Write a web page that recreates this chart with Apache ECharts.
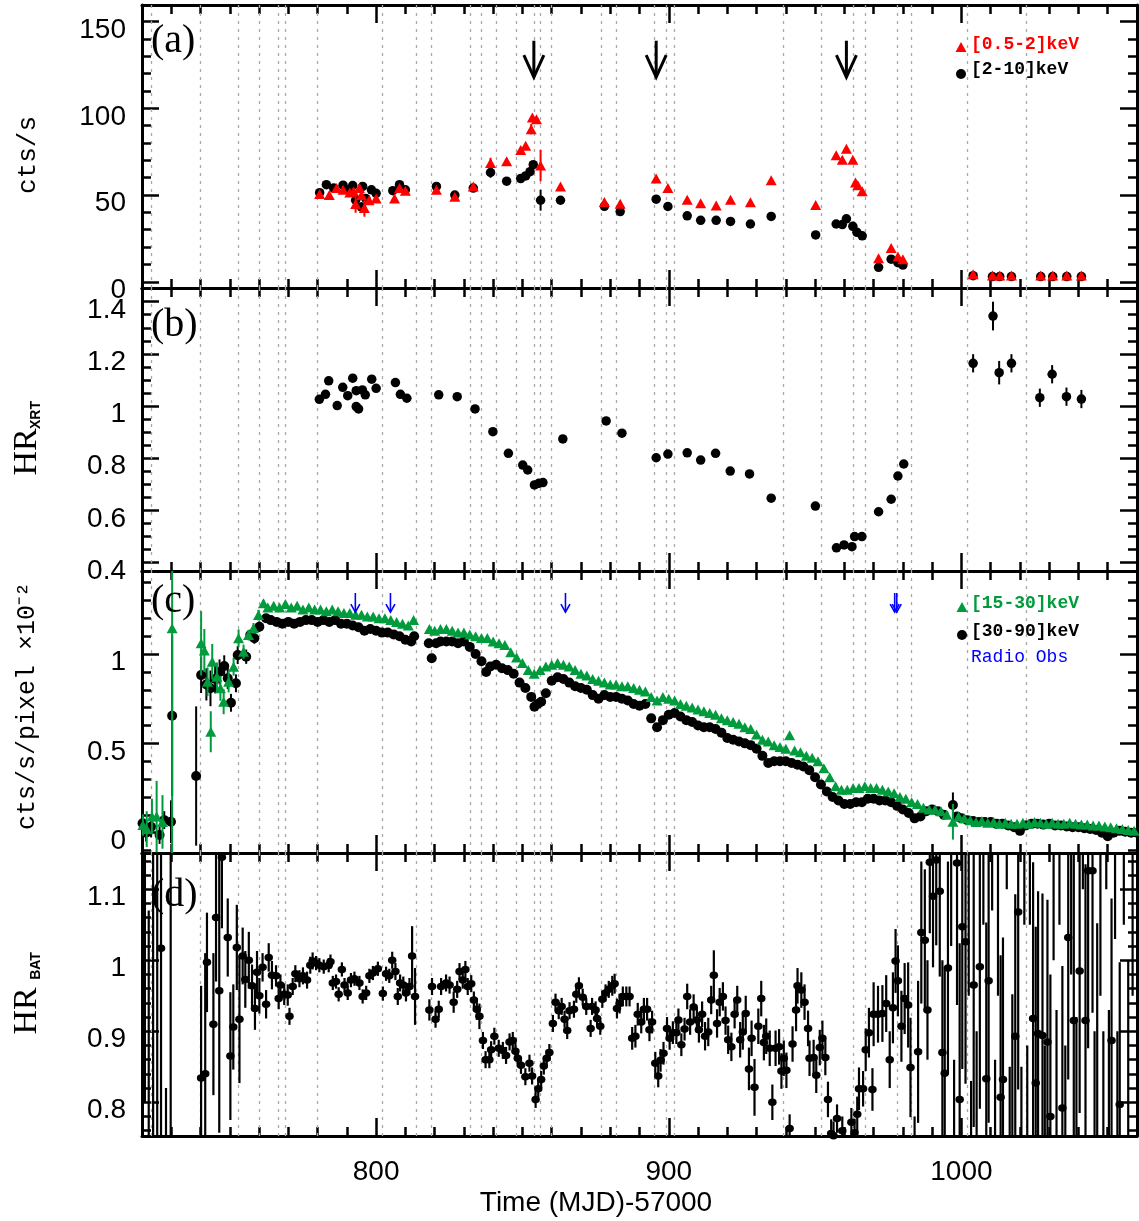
<!DOCTYPE html>
<html>
<head>
<meta charset="utf-8">
<script src="https://cdn.jsdelivr.net/npm/echarts@6/dist/echarts.min.js"></script>
<style>
  html, body { margin: 0; background: #fff; }
  #chart { width: 1139px; height: 1221px; }
</style>
</head>
<body>
<div id="chart"></div>
<script>
// ---- time axis (MJD-57000) ----
const xMajorTicks = [800, 900, 1000]
const obsLines = [723, 740, 753, 760, 766.4, 769, 780, 802, 813.7, 818.8, 832, 836, 841, 848, 854, 856, 860,
  877, 882, 895, 899, 902, 939, 952, 963, 967, 978, 983, 1002, 1022]

// ---- y tick labels per panel ----
const aTicks = [0, 50, 100, 150]
const bTicks = [0.4, 0.6, 0.8, 1, 1.2, 1.4]
const cTicks = [0, 0.5, 1]
const dTicks = [0.8, 0.9, 1, 1.1]

// ---- (a) XRT count rates: [time, rate, err] ----
const xrtHard = [
  [780.7, 51.4, 1], [783.0, 56.0, 1], [785.5, 54, 1], [788.7, 55.7, 1], [790.5, 53, 1], [792.0, 55.5, 1],
  [793.0, 47, 3], [795.4, 55, 1], [795.0, 43, 3], [796.5, 48, 2], [798.4, 53, 1], [800.0, 51, 1],
  [805.7, 52.5, 1], [808.0, 56, 1], [810.0, 53, 1], [820.6, 55, 1], [826.9, 50, 1], [833.2, 54, 1],
  [839.1, 63, 3], [844.6, 58, 1], [849.4, 59.5, 1], [851.1, 61, 1], [852.6, 63.5, 1], [853.7, 67.5, 1],
  [856.2, 47, 6], [863.0, 47, 1], [878.0, 43.5, 1], [883.4, 40.5, 1], [895.7, 47.6, 1], [899.7, 43.4, 1],
  [906.3, 38, 1], [910.9, 35.4, 1], [916.2, 35.4, 1], [921.1, 34.8, 1], [927.9, 33.3, 1], [935.0, 37.7, 1],
  [950.2, 27, 1], [957.2, 33.3, 1], [959.3, 33, 1], [960.7, 36.3, 1], [962.9, 32, 1], [964.3, 28.5, 1],
  [966.1, 26.5, 1], [971.7, 8.3, 1], [976.0, 13, 1], [978.3, 11, 1], [980.0, 9.6, 1],
  [1004, 3.5, 0.5], [1010.6, 3, 0.5], [1013.1, 3, 0.5], [1017.1, 3, 0.5], [1027.1, 3, 0.5],
  [1031.2, 3, 0.5], [1036, 3, 0.5], [1041, 3, 0.5]
]
const xrtSoft = [
  [780.7, 50.6, 1], [784.0, 50, 1], [786.5, 54, 1], [788.7, 53, 1], [791.0, 51.5, 1], [792.3, 52, 2],
  [793.0, 44.8, 5], [794.3, 54, 2], [795.0, 50, 3], [796.0, 42.5, 5], [797.6, 47, 2], [800.0, 48, 1],
  [806.3, 48, 1], [808.0, 54, 1], [810.0, 52.5, 1], [820.6, 53, 1], [826.9, 49, 1], [833.2, 55, 1],
  [839.1, 68.5, 3], [844.6, 69.5, 1.5], [849.4, 76, 1], [851.1, 78.5, 1], [853.0, 88, 3], [853.4, 94.7, 1],
  [854.8, 93.7, 1], [856.2, 67, 9], [863.0, 55, 1], [878.0, 46, 1], [883.4, 45, 1], [895.7, 59.6, 1],
  [899.7, 54, 1], [906.3, 47.3, 1], [910.9, 45.3, 1], [916.2, 44, 1], [921.1, 47.3, 1], [927.9, 45.8, 1],
  [935.0, 58.5, 1], [950.2, 44.3, 1], [957.2, 73, 1], [959.3, 70.4, 1], [960.7, 76.7, 1], [962.9, 70.4, 1],
  [963.8, 57.3, 1], [964.6, 55.7, 1], [966.1, 52.2, 1], [971.7, 13.5, 1], [976.0, 19.4, 1], [978.3, 14.6, 1],
  [980.0, 13, 1], [1004, 4.3, 0.5], [1010.6, 3.6, 0.5], [1013.1, 3.6, 0.5], [1017.1, 3.6, 0.5],
  [1027.1, 3.6, 0.5], [1031.2, 3.6, 0.5], [1036, 3.6, 0.5], [1041, 3.6, 0.5]
]
// outburst arrows in (a): [time, top, tip]
const flareArrows = [[853.9, 139, 118], [895.7, 139, 118], [960.7, 139, 118]]

// ---- (b) XRT hardness ratio ----
const hrXrt = [
  [780.6, 1.026, 0.01], [782.7, 1.045, 0.01], [783.8, 1.097, 0.01], [786.7, 1.002, 0.01], [788.6, 1.072, 0.01],
  [790.3, 1.040, 0.01], [792.0, 1.107, 0.01], [793.2, 1.059, 0.01], [793.2, 0.998, 0.01], [794.0, 0.989, 0.01],
  [795.3, 1.062, 0.01], [796.3, 1.043, 0.01], [798.5, 1.103, 0.01], [800.0, 1.068, 0.01], [806.6, 1.090, 0.01],
  [808.3, 1.045, 0.01], [810.5, 1.030, 0.01], [821.4, 1.043, 0.01], [827.7, 1.036, 0.01], [833.8, 0.989, 0.01],
  [839.9, 0.902, 0.01], [845.2, 0.819, 0.01], [850.1, 0.774, 0.01], [851.8, 0.755, 0.01], [854.1, 0.698, 0.01],
  [855.6, 0.704, 0.01], [857.0, 0.707, 0.01], [863.8, 0.874, 0.01], [878.6, 0.943, 0.01], [884.0, 0.896, 0.01],
  [895.7, 0.802, 0.01], [899.7, 0.816, 0.01], [906.3, 0.821, 0.01], [910.9, 0.793, 0.01], [916.0, 0.819, 0.01],
  [921.0, 0.751, 0.01], [927.6, 0.740, 0.01], [935.0, 0.647, 0.01], [950.1, 0.617, 0.01], [957.3, 0.457, 0.01],
  [959.9, 0.468, 0.01], [962.6, 0.461, 0.01], [963.5, 0.500, 0.01], [966.0, 0.500, 0.01], [971.7, 0.595, 0.01],
  [976.0, 0.643, 0.01], [978.3, 0.732, 0.01], [980.3, 0.778, 0.01], [1004.0, 1.164, 0.035], [1010.8, 1.345, 0.055],
  [1012.9, 1.128, 0.045], [1017.1, 1.164, 0.035], [1026.8, 1.032, 0.035], [1031.0, 1.122, 0.035],
  [1035.9, 1.036, 0.035], [1041.0, 1.027, 0.035]
]

// ---- (c) BAT rates (x 1e-2): [time, rate, err] ----
const batSoft = [
  [720.3, 0.043, 0.06], [721.6, 0.02, 0.1], [723.4, 0.09, 0.1], [725.0, 0.09, 0.2], [727.0, 0.06, 0.15],
  [730.3, 1.144, 1.3], [740.2, 1.06, 0.18], [741.3, 1.02, 0.12], [742.4, 0.845, 0.08], [743.5, 0.565, 0.115],
  [744.0, 0.957, 0.1], [745.6, 0.873, 0.08], [746.8, 0.808, 0.07], [747.9, 0.733, 0.07], [749.6, 0.845, 0.06],
  [751.3, 0.929, 0.05], [753.0, 1.088, 0.05], [754.7, 1.013, 0.04], [756.4, 1.106, 0.03], [758.1, 1.144, 0.03],
  [759.8, 1.218, 0.03], [761.5, 1.284, 0.02],
  [763, 1.26], [765, 1.27], [767, 1.26], [769, 1.28], [771, 1.26], [773, 1.27], [775, 1.25], [777, 1.26],
  [779, 1.25], [781, 1.25], [783, 1.24], [785, 1.25], [787, 1.24], [789, 1.23], [791, 1.23], [793, 1.22],
  [795, 1.22], [797, 1.21], [799, 1.21], [801, 1.20], [803, 1.20], [805, 1.19], [807, 1.18], [809, 1.17],
  [811, 1.16], [812.8, 1.19],
  [818.2, 1.14], [820, 1.13], [822, 1.14], [824, 1.14], [826, 1.13], [828, 1.12], [830, 1.12], [832, 1.11],
  [834, 1.10], [836, 1.09], [838, 1.09], [840, 1.07], [842, 1.06], [844, 1.05], [846, 1.01], [848, 0.98],
  [850, 0.95], [852, 0.91], [854, 0.89], [856, 0.91], [858, 0.93], [860, 0.94], [862, 0.95], [864, 0.94],
  [866, 0.93], [868, 0.91], [870, 0.89], [872, 0.88], [874, 0.86], [876, 0.85], [878, 0.84], [880, 0.83],
  [882, 0.83], [884, 0.82], [886, 0.82], [888, 0.81], [890, 0.80], [892, 0.79], [894, 0.76], [896, 0.74],
  [898, 0.76], [900, 0.75], [902, 0.74], [904, 0.72], [906, 0.71], [908, 0.70], [910, 0.69], [912, 0.68],
  [914, 0.67], [916, 0.66], [918, 0.64], [920, 0.63], [922, 0.62], [924, 0.61], [926, 0.59], [928, 0.58],
  [930, 0.55], [932, 0.52], [934, 0.51], [936, 0.49], [938, 0.48], [940, 0.47], [941.3, 0.546], [943, 0.46],
  [945, 0.45], [947, 0.43], [949, 0.42], [951, 0.40], [953, 0.36], [955, 0.31], [957, 0.26], [959, 0.24],
  [961, 0.24], [963, 0.25], [965, 0.25], [967, 0.26], [969, 0.25], [971, 0.25], [973, 0.24], [975, 0.23],
  [977, 0.22], [979, 0.20], [981, 0.19], [983, 0.17], [985, 0.16], [987, 0.14], [989, 0.13], [991, 0.13],
  [993, 0.12], [995, 0.10], [997.1, 0.061, 0.1], [999, 0.09], [1001, 0.08], [1003, 0.07], [1005, 0.06],
  [1007, 0.065], [1009, 0.055], [1011, 0.06], [1013, 0.05], [1015, 0.055], [1017, 0.05], [1019, 0.05],
  [1021, 0.055], [1023, 0.05], [1025, 0.06], [1027, 0.055], [1029, 0.05], [1031, 0.055], [1033, 0.05],
  [1035, 0.05], [1037, 0.055], [1039, 0.05], [1041, 0.045], [1043, 0.045], [1045, 0.04], [1047, 0.04],
  [1049, 0.035], [1051, 0.03], [1053, 0.025], [1055, 0.02], [1057, 0.015], [1059, 0.01]
]
const batHard = [
  [720.2, 0.052, 0.06], [721.4, 0.0, 0.05], [723.1, 0.033, 0.06], [726.0, -0.013, 0.05], [727.6, 0.07, 0.05],
  [729.9, 0.061, 0.12], [730.3, 0.655, 0.45], [738.5, 0.317, 0.39], [740.2, 0.882, 0.1], [742.0, 0.83, 0.09],
  [743.4, 0.808, 0.1], [745.0, 0.86, 0.08], [746.5, 0.90, 0.07], [748.1, 0.933, 0.06], [749.3, 0.864, 0.06],
  [750.4, 0.727, 0.05], [752.1, 0.836, 0.05], [752.7, 0.994, 0.05], [755.6, 0.985, 0.04], [757.0, 1.106, 0.03],
  [758.4, 1.088, 0.03], [760.1, 1.153, 0.03], [762.4, 1.2, 0.02],
  [764, 1.19], [766, 1.18], [768, 1.17], [770, 1.18], [772, 1.17], [774, 1.18], [776, 1.19], [778, 1.19],
  [780, 1.18], [782, 1.19], [784, 1.18], [786, 1.19], [788, 1.17], [790, 1.17], [792, 1.16], [794, 1.15],
  [796, 1.13], [798, 1.14], [800, 1.13], [802, 1.12], [804, 1.12], [806, 1.11], [808, 1.10], [810, 1.08],
  [812, 1.07], [813, 1.10],
  [818, 1.06], [819, 0.976], [820.5, 1.06], [822, 1.07], [824, 1.07], [826, 1.07], [828, 1.06], [830, 1.07],
  [832, 1.04], [834, 1.00], [836, 0.96], [837.6, 0.90], [839, 0.93], [841, 0.94], [843, 0.92], [845, 0.91],
  [847, 0.89], [849, 0.84], [851, 0.81], [853, 0.76], [854.1, 0.705], [855.2, 0.72], [856.4, 0.733], [858, 0.78],
  [860, 0.85], [862, 0.87], [864, 0.86], [866, 0.84], [868, 0.82], [870, 0.81], [872, 0.80], [874, 0.77],
  [876, 0.75], [878, 0.77], [880, 0.76], [882, 0.76], [884, 0.75], [886, 0.74], [888, 0.72], [890, 0.71],
  [892, 0.72], [894, 0.64], [896, 0.59], [898, 0.63], [900, 0.66], [902, 0.67], [904, 0.65], [906, 0.63],
  [908, 0.62], [910, 0.60], [912, 0.59], [914, 0.59], [916, 0.58], [918, 0.56], [920, 0.53], [922, 0.52],
  [924, 0.51], [926, 0.50], [928, 0.49], [930, 0.47], [932, 0.43], [934, 0.39], [936, 0.40], [938, 0.40],
  [940, 0.40], [942, 0.39], [944, 0.38], [946, 0.37], [948, 0.35], [950, 0.31], [952, 0.27], [954, 0.23],
  [956, 0.20], [958, 0.18], [960, 0.16], [962, 0.16], [964, 0.17], [966, 0.17], [968, 0.19], [970, 0.19],
  [972, 0.18], [974, 0.18], [976, 0.17], [978, 0.15], [980, 0.13], [982, 0.11], [984, 0.08], [986, 0.09],
  [988, 0.12], [990, 0.13], [992, 0.12], [994, 0.10], [997.1, 0.155, 0.07], [998.5, 0.09], [1000, 0.08],
  [1002, 0.07], [1004, 0.065], [1006, 0.06], [1008, 0.06], [1010, 0.06], [1012, 0.05], [1014, 0.05],
  [1016, 0.04], [1018, 0.03], [1020, 0.01], [1022, 0.04], [1024, 0.05], [1026, 0.05], [1028, 0.045],
  [1030, 0.05], [1032, 0.04], [1034, 0.04], [1036, 0.035], [1038, 0.03], [1040, 0.03], [1042, 0.025],
  [1044, 0.02], [1046, 0.015], [1048, 0.0], [1050, -0.02], [1052, 0.0], [1054, 0.01], [1056, 0.005],
  [1058, 0.0], [1060, 0.0]
]
// radio observations in (c): [time, top, tip]
const radioArrows = [[792.9, 1.342, 1.235], [804.9, 1.342, 1.235], [864.7, 1.342, 1.235],
  [977.2, 1.342, 1.235], [977.9, 1.342, 1.235]]

// ---- (d) BAT hardness ratio ----
const hrBat = [
  [721.0, 1.30, 0.5], [722.3, 0.62, 0.45], [723.8, 1.25, 0.5], [725.2, 0.68, 0.5], [726.5, 1.017, 0.45],
  [728.2, 0.62, 0.2], [729.8, 1.22, 0.6],
  [740.2, 0.834, 0.13], [741.6, 0.840, 0.17], [742.2, 0.997, 0.07], [744.4, 0.910, 0.10], [745.3, 1.060, 0.09],
  [746.4, 0.957, 0.2], [747.3, 1.145, 0.1], [749.3, 1.032, 0.055], [750.2, 0.865, 0.09], [751.2, 0.906, 0.06],
  [752.4, 1.018, 0.06], [753.3, 0.917, 0.09], [754.4, 1.006, 0.04], [755.3, 0.973, 0.04], [756.5, 1.000, 0.04],
  [757.6, 0.964, 0.03], [758.6, 0.932, 0.03], [759.3, 0.983, 0.03], [760.1, 0.950, 0.025], [761.2, 0.990, 0.02],
  [762.4, 0.938, 0.02], [763.3, 1.004, 0.02], [764.4, 0.979, 0.02], [765.8, 0.978, 0.015], [766.7, 0.946, 0.015],
  [767.3, 0.965, 0.015], [768.6, 0.952, 0.015], [769.8, 0.951, 0.015], [770.4, 0.921, 0.012], [771.5, 0.963, 0.012],
  [772.4, 0.981, 0.012], [773.8, 0.974, 0.012], [775.0, 0.978, 0.012], [776.4, 0.972, 0.012], [777.5, 0.993, 0.012],
  [778.3, 0.999, 0.012], [779.5, 0.996, 0.01], [780.6, 0.993, 0.01], [782.1, 0.991, 0.01], [783.8, 0.993, 0.01],
  [784.4, 0.998, 0.01], [785.2, 0.968, 0.01], [786.3, 0.970, 0.01], [787.2, 0.952, 0.01], [788.3, 0.987, 0.01],
  [789.2, 0.965, 0.01], [790.3, 0.954, 0.01], [791.4, 0.972, 0.01], [792.6, 0.974, 0.01], [794.3, 0.968, 0.01],
  [795.4, 0.949, 0.01], [796.6, 0.954, 0.01], [797.7, 0.978, 0.01], [798.9, 0.982, 0.01], [800.6, 0.988, 0.01],
  [802.3, 0.953, 0.01], [803.4, 0.981, 0.01], [804.5, 0.978, 0.01], [805.5, 1.000, 0.012], [806.6, 0.984, 0.012],
  [807.4, 0.949, 0.012], [808.2, 0.968, 0.012], [809.3, 0.965, 0.012], [810.2, 0.954, 0.012], [811.4, 0.963, 0.012],
  [812.3, 1.006, 0.042], [813.3, 0.949, 0.04], [818.2, 0.930, 0.015], [819.1, 0.963, 0.012], [820.3, 0.917, 0.012],
  [821.4, 0.931, 0.012], [822.2, 0.963, 0.012], [823.9, 0.968, 0.012], [825.1, 0.965, 0.012], [826.5, 0.941, 0.015],
  [827.7, 0.959, 0.012], [828.5, 0.984, 0.012], [829.6, 0.972, 0.012], [830.5, 0.987, 0.012], [831.3, 0.963, 0.012],
  [832.5, 0.967, 0.012], [833.4, 0.944, 0.012], [834.4, 0.931, 0.015], [835.3, 0.921, 0.018], [836.5, 0.887, 0.012],
  [837.4, 0.860, 0.012], [838.7, 0.860, 0.012], [839.3, 0.874, 0.012], [840.4, 0.893, 0.012], [841.9, 0.876, 0.012],
  [843.3, 0.873, 0.012], [844.4, 0.866, 0.012], [845.6, 0.885, 0.012], [846.7, 0.887, 0.012], [847.6, 0.872, 0.012],
  [848.4, 0.862, 0.012], [849.5, 0.852, 0.012], [851.0, 0.836, 0.012], [852.4, 0.855, 0.012], [853.3, 0.837, 0.012],
  [854.5, 0.804, 0.012], [855.4, 0.819, 0.012], [856.4, 0.832, 0.012], [857.3, 0.851, 0.012], [858.3, 0.862, 0.012],
  [859.2, 0.870, 0.012], [860.4, 0.911, 0.012], [861.3, 0.941, 0.012], [862.4, 0.929, 0.012], [863.4, 0.935, 0.012],
  [864.4, 0.917, 0.012], [865.3, 0.901, 0.012], [866.1, 0.929, 0.012], [867.6, 0.931, 0.012], [868.4, 0.952, 0.012],
  [869.3, 0.964, 0.012], [870.6, 0.948, 0.012], [871.8, 0.935, 0.012], [873.3, 0.904, 0.012], [873.8, 0.935, 0.012],
  [875.0, 0.930, 0.012], [875.5, 0.918, 0.012], [876.6, 0.907, 0.012], [877.3, 0.945, 0.012], [878.4, 0.954, 0.012],
  [879.5, 0.959, 0.012], [880.7, 0.964, 0.014], [881.5, 0.967, 0.014], [882.3, 0.932, 0.014], [883.2, 0.939, 0.014],
  [884.3, 0.949, 0.014], [885.5, 0.949, 0.014], [886.6, 0.949, 0.014], [887.5, 0.890, 0.016], [888.6, 0.893, 0.016],
  [889.4, 0.924, 0.016], [890.6, 0.913, 0.016], [891.5, 0.931, 0.016], [892.6, 0.931, 0.016], [893.4, 0.902, 0.016],
  [894.3, 0.913, 0.016], [895.4, 0.855, 0.016], [896.4, 0.837, 0.016], [897.2, 0.859, 0.016], [898.2, 0.869, 0.016],
  [899.4, 0.904, 0.016], [900.3, 0.890, 0.016], [901.4, 0.898, 0.016], [902.6, 0.898, 0.016], [903.3, 0.916, 0.016],
  [904.3, 0.881, 0.016], [905.4, 0.903, 0.016], [906.3, 0.949, 0.018], [907.3, 0.913, 0.018], [908.5, 0.934, 0.018],
  [909.6, 0.916, 0.018], [910.3, 0.902, 0.018], [911.4, 0.924, 0.018], [912.4, 0.893, 0.02], [913.5, 0.899, 0.02],
  [914.5, 0.944, 0.02], [915.4, 0.979, 0.035], [916.5, 0.911, 0.02], [917.4, 0.941, 0.02], [918.5, 0.949, 0.02],
  [919.4, 0.915, 0.02], [920.3, 0.888, 0.02], [921.4, 0.878, 0.02], [922.5, 0.924, 0.02], [923.4, 0.944, 0.02],
  [924.4, 0.888, 0.025], [925.3, 0.899, 0.025], [926.3, 0.925, 0.025], [927.4, 0.847, 0.03], [928.3, 0.890, 0.025],
  [929.3, 0.821, 0.04], [930.6, 0.907, 0.025], [931.6, 0.946, 0.025], [932.5, 0.884, 0.025], [933.3, 0.893, 0.025],
  [934.5, 0.876, 0.025], [935.4, 0.800, 0.025], [936.5, 0.876, 0.025], [937.7, 0.878, 0.025], [938.5, 0.844, 0.025],
  [939.3, 0.862, 0.025], [940.2, 0.845, 0.025], [941.3, 0.763, 0.02], [942.3, 0.882, 0.025], [943.5, 0.930, 0.03],
  [944.0, 0.964, 0.025], [945.3, 0.958, 0.025], [946.4, 0.941, 0.025], [947.6, 0.904, 0.025], [948.1, 0.862, 0.025],
  [949.5, 0.863, 0.025], [950.4, 0.838, 0.025], [951.6, 0.877, 0.025], [952.5, 0.890, 0.025], [953.5, 0.863, 0.025],
  [954.4, 0.804, 0.025], [955.5, 0.756, 0.02], [956.3, 0.753, 0.02], [957.5, 0.777, 0.02], [959.3, 0.760, 0.02],
  [962.4, 0.772, 0.02], [963.5, 0.757, 0.02], [964.4, 0.783, 0.025], [965.0, 0.819, 0.03], [966.4, 0.819, 0.025],
  [967.3, 0.874, 0.03], [968.4, 0.898, 0.035], [969.6, 0.818, 0.03], [970.0, 0.924, 0.045], [971.5, 0.924, 0.04],
  [973.0, 0.925, 0.04], [974.3, 0.939, 0.04], [975.5, 0.860, 0.04], [976.6, 0.933, 0.05], [977.5, 0.999, 0.045],
  [978.3, 0.971, 0.05], [979.5, 0.907, 0.05], [980.6, 0.946, 0.05], [981.8, 0.937, 0.06], [982.6, 0.849, 0.07],
  [984.0, 0.70, 0.08], [985.2, 0.871, 0.1], [986.3, 1.039, 0.1], [987.5, 1.028, 0.1], [988.4, 0.930, 0.07],
  [989.2, 1.138, 0.1], [990.3, 1.090, 0.1], [991.4, 1.141, 0.12], [992.6, 1.097, 0.12], [993.5, 0.870, 0.13],
  [994.3, 0.841, 0.15], [995.4, 0.989, 0.15], [996.5, 1.22, 0.2], [997.5, 0.66, 0.2], [998.5, 1.137, 0.2],
  [999.4, 0.804, 0.22], [1000.3, 1.047, 0.2], [1001.4, 1.026, 0.2], [1002.5, 1.25, 0.3], [1003.3, 0.68, 0.15],
  [1004.2, 0.965, 0.2], [1005.2, 0.70, 0.2], [1006.3, 0.991, 0.2], [1007.5, 1.25, 0.2], [1008.5, 0.833, 0.22],
  [1009.3, 0.971, 0.2], [1010.5, 1.25, 0.18], [1011.5, 0.68, 0.18], [1012.5, 1.2, 0.25], [1013.4, 0.807, 0.2],
  [1014.2, 0.832, 0.2], [1015.5, 1.3, 0.2], [1016.5, 0.65, 0.2], [1017.4, 0.752, 0.2], [1018.4, 0.893, 0.2],
  [1019.4, 1.068, 0.25], [1020.5, 0.65, 0.2], [1021.5, 1.25, 0.2], [1022.5, 0.68, 0.2], [1023.4, 1.3, 0.25],
  [1024.5, 0.918, 0.22], [1025.4, 0.827, 0.22], [1026.2, 0.897, 0.2], [1027.7, 0.894, 0.2], [1028.5, 0.68, 0.2],
  [1029.4, 0.885, 0.2], [1030.4, 0.780, 0.2], [1031.5, 1.3, 0.3], [1032.5, 0.68, 0.25], [1033.5, 1.25, 0.2],
  [1034.5, 0.792, 0.2], [1035.5, 0.68, 0.2], [1036.5, 1.032, 0.2], [1037.5, 1.28, 0.3], [1038.4, 0.915, 0.25],
  [1039.3, 0.70, 0.22], [1040.4, 0.985, 0.2], [1041.5, 1.3, 0.2], [1042.4, 0.915, 0.22], [1043.3, 1.126, 0.25],
  [1044.8, 1.126, 0.2], [1045.5, 0.7, 0.2], [1046.4, 0.752, 0.3], [1047.5, 1.25, 0.3], [1048.5, 0.7, 0.2],
  [1049.5, 1.3, 0.2], [1050.4, 0.68, 0.25], [1051.3, 0.887, 0.2], [1052.5, 1.28, 0.25], [1053.3, 0.7, 0.2],
  [1054.1, 0.797, 0.2], [1055.5, 1.3, 0.25], [1057, 0.7, 0.3], [1058.5, 1.25, 0.3]
]

// ---- layout ----
const panels = [
  { top: 5, height: 283, min: -3.6, max: 159.6, major: aTicks, minor: [0, 150, 10] },
  { top: 288, height: 283, min: 0.368, max: 1.4525, major: bTicks, minor: [0.4, 1.45, 0.05] },
  { top: 571, height: 282, min: -0.114, max: 1.465, major: cTicks, minor: [-0.1, 1.4, 0.1] },
  { top: 853, height: 283, min: 0.7525, max: 1.151, major: dTicks, minor: [0.76, 1.14, 0.02] }
]
const tickFont = 'Liberation Sans'
const green = '#009b3c'
const blue = '#0000ff'

function steps(from, to, step) {
  const out = []
  const n = Math.round((to - from) / step)
  for (let i = 0; i <= n; i++) out.push(+(from + i * step).toFixed(4))
  return out
}
const xMinorTicks = steps(720, 1060, 10)

function xAxis(g, pos, minor) {
  return {
    type: 'value', gridIndex: g, min: 720, max: 1060, position: pos,
    axisLine: { show: !minor, onZero: false, lineStyle: { color: '#000', width: 3 } },
    axisTick: { show: true, inside: true, length: minor ? 9 : 18, customValues: minor ? xMinorTicks : xMajorTicks,
      lineStyle: { color: '#000', width: 2.5 } },
    axisLabel: { show: !minor && pos === 'bottom' && g === 3, customValues: xMajorTicks, margin: 22,
      formatter: v => String(v), fontSize: 28, fontFamily: tickFont, color: '#000' },
    splitLine: { show: false }
  }
}
function yAxis(g, pos, minor) {
  const p = panels[g]
  return {
    type: 'value', gridIndex: g, min: p.min, max: p.max, position: pos,
    axisLine: { show: !minor, onZero: false, lineStyle: { color: '#000', width: 3 } },
    axisTick: { show: true, inside: true, length: minor ? 9 : 17,
      customValues: minor ? steps(p.minor[0], p.minor[1], p.minor[2]) : p.major,
      lineStyle: { color: '#000', width: 2.5 } },
    axisLabel: { show: !minor && pos === 'left', customValues: p.major, margin: 16,
      formatter: v => '{t|' + v + '}',
      rich: { t: { fontSize: 28, fontFamily: tickFont, color: '#000', padding: [17, 0, 0, 0] } } },
    splitLine: { show: false }
  }
}

const grid = [], xAxes = [], yAxes = []
panels.forEach((p, g) => {
  grid.push({ left: 142, width: 995, top: p.top, height: p.height })
  ;['bottom', 'top'].forEach(pos => [false, true].forEach(m => xAxes.push(xAxis(g, pos, m))))
  ;['left', 'right'].forEach(pos => [false, true].forEach(m => yAxes.push(yAxis(g, pos, m))))
})

function errBars(g, data, color, width, z) {
  return {
    type: 'custom', xAxisIndex: g * 4, yAxisIndex: g * 4, data: data, clip: true, z: z, silent: true,
    renderItem(params, api) {
      const e = api.value(2)
      if (!e || isNaN(e)) return null
      const x = api.value(0), y = api.value(1)
      const p1 = api.coord([x, y - e]), p2 = api.coord([x, y + e])
      return { type: 'line', shape: { x1: p1[0], y1: p1[1], x2: p2[0], y2: p2[1] },
        style: { stroke: color, lineWidth: width } }
    }
  }
}
function points(g, data, color, symbol, size, z) {
  return {
    type: 'scatter', xAxisIndex: g * 4, yAxisIndex: g * 4, data: data, clip: true, z: z, silent: true,
    symbol: symbol, symbolSize: size, itemStyle: { color: color, opacity: 1 }
  }
}
function arrows(g, data, color, width, head) {
  return {
    type: 'custom', xAxisIndex: g * 4, yAxisIndex: g * 4, data: data, z: 10, silent: true,
    renderItem(params, api) {
      const a = api.coord([api.value(0), api.value(1)])
      const b = api.coord([api.value(0), api.value(2)])
      return { type: 'group', children: [
        { type: 'line', shape: { x1: a[0], y1: a[1], x2: b[0], y2: b[1] }, style: { stroke: color, lineWidth: width } },
        { type: 'polyline', shape: { points: [[b[0] - head[0], b[1] - head[1]], [b[0], b[1]], [b[0] + head[0], b[1] - head[1]]] },
          style: { stroke: color, lineWidth: width, fill: null } }
      ] }
    }
  }
}
function obsMarks(g) {
  return {
    type: 'scatter', xAxisIndex: g * 4, yAxisIndex: g * 4, data: [], silent: true,
    markLine: {
      silent: true, symbol: ['none', 'none'], z: 1, animation: false,
      label: { show: false },
      lineStyle: { color: '#a8a8a8', width: 1.3, type: [3, 5] },
      data: obsLines.map(v => ({ xAxis: v }))
    }
  }
}

const series = [
  obsMarks(0), obsMarks(1), obsMarks(2), obsMarks(3),
  errBars(0, xrtHard, '#000', 2, 3), points(0, xrtHard, '#000', 'circle', 9.5, 4),
  errBars(0, xrtSoft, '#ff0000', 2, 5), points(0, xrtSoft, '#ff0000', 'triangle', [11, 10], 6),
  arrows(0, flareArrows, '#000', 3, [10, 22]),
  errBars(1, hrXrt, '#000', 2, 3), points(1, hrXrt, '#000', 'circle', 9.5, 4),
  errBars(2, batHard, '#000', 2, 3), points(2, batHard, '#000', 'circle', 10, 4),
  errBars(2, batSoft, green, 2, 5), points(2, batSoft, green, 'triangle', [11, 10], 6),
  arrows(2, radioArrows, blue, 1.6, [4.5, 8]),
  errBars(3, hrBat, '#000', 2.2, 3), points(3, hrBat, '#000', 'circle', [8.5, 7.5], 4)
]

function vText(text, x, y, font, color) {
  return { type: 'text', x: x, y: y, rotation: Math.PI / 2, z: 100,
    style: { text: text, font: font, fill: color || '#000', align: 'center', verticalAlign: 'middle' } }
}
function hText(text, x, y, font, color, align) {
  return { type: 'text', x: x, y: y, z: 100,
    style: { text: text, font: font, fill: color || '#000', align: align || 'left', verticalAlign: 'middle' } }
}
function tri(cx, cy, color) {
  return { type: 'polygon', z: 100, shape: { points: [[cx - 5.5, cy + 5], [cx + 5.5, cy + 5], [cx, cy - 5]] }, style: { fill: color } }
}
function dot(cx, cy, color) {
  return { type: 'circle', z: 100, shape: { cx: cx, cy: cy, r: 5 }, style: { fill: color } }
}

const legendFont = 'bold 18px "Liberation Mono"'
const graphic = [
  vText('cts/s', 28, 155, '26px "Liberation Mono"'),
  vText('HR', 27, 452, '34px "Liberation Serif"'),
  vText('XRT', 36, 415, 'bold 14px "Liberation Sans"'),
  vText('cts/s/pixel \u00d710\u207b\u00b2', 27, 706, '25px "Liberation Mono"'),
  vText('HR', 27, 1011, '34px "Liberation Serif"'),
  vText('BAT', 36, 966, 'bold 14px "Liberation Sans"'),
  hText('(a)', 151, 41, '40px "Liberation Serif"'),
  hText('(b)', 151, 325, '40px "Liberation Serif"'),
  hText('(c)', 151, 601, '40px "Liberation Serif"'),
  hText('(d)', 151, 895, '40px "Liberation Serif"'),
  hText('Time (MJD)-57000', 596, 1203, '28px "Liberation Sans"', '#000', 'center'),
  tri(961, 47, '#ff0000'), hText('[0.5-2]keV', 971, 44, legendFont, '#ff0000'),
  dot(961, 74, '#000'), hText('[2-10]keV', 971, 69, legendFont, '#000'),
  tri(962, 607, green), hText('[15-30]keV', 971, 603, legendFont, green),
  dot(962, 635, '#000'), hText('[30-90]keV', 971, 631, legendFont, '#000'),
  hText('Radio Obs', 971, 657, '18px "Liberation Mono"', blue)
]

const chart = echarts.init(document.getElementById('chart'))
chart.setOption({
  animation: false,
  backgroundColor: '#fff',
  grid: grid,
  xAxis: xAxes,
  yAxis: yAxes,
  series: series,
  graphic: graphic
})
</script>
</body>
</html>
